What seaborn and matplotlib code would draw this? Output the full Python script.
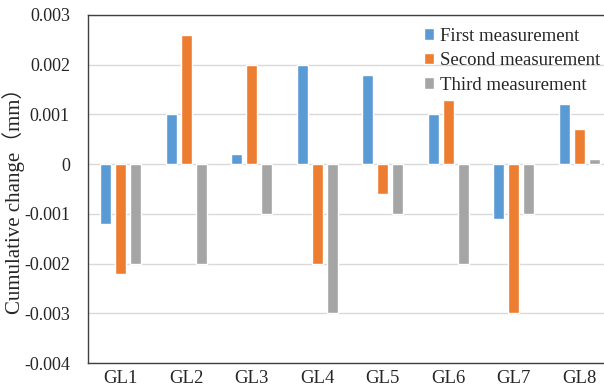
import matplotlib
matplotlib.use("Agg")
import matplotlib.pyplot as plt
import seaborn as sns
import pandas as pd

categories = ["GL1", "GL2", "GL3", "GL4", "GL5", "GL6", "GL7", "GL8"]
first = [-0.0012, 0.0010, 0.0002, 0.0020, 0.0018, 0.0010, -0.0011, 0.0012]
second = [-0.0022, 0.0026, 0.0020, -0.0020, -0.0006, 0.0013, -0.0030, 0.0007]
third = [-0.0020, -0.0020, -0.0010, -0.0030, -0.0010, -0.0020, -0.0010, 0.0001]
series_names = ["First measurement", "Second measurement", "Third measurement"]
colors = ["#5B9BD5", "#ED7D31", "#A5A5A5"]
yticks = [-0.004, -0.003, -0.002, -0.001, 0, 0.001, 0.002, 0.003]
ytick_labels = ["-0.004", "-0.003", "-0.002", "-0.001", "0", "0.001", "0.002", "0.003"]

rows = []
for name, vals in zip(series_names, [first, second, third]):
    for c, v in zip(categories, vals):
        rows.append({"site": c, "series": name, "value": v})
df = pd.DataFrame(rows)

sns.set_theme(style="white")
plt.rcParams["font.family"] = ["Liberation Serif", "Noto Sans CJK SC"]

fig = plt.figure(figsize=(6.04, 3.87), dpi=100)
ax_w = 612 - 88
ax_h = 363 - 15
ax = fig.add_axes([88 / 604, 1 - 363 / 387, ax_w / 604, ax_h / 387])

sns.barplot(data=df, x="site", y="value", hue="series", palette=colors,
            order=categories, hue_order=series_names, width=0.69, gap=0.27,
            saturation=1, ax=ax, legend=True)

ax.set_ylim(-0.004, 0.003)
ax.set_yticks(yticks)
ax.set_yticklabels(ytick_labels, fontsize=13)
ax.tick_params(axis="x", labelsize=13.5, length=0, pad=5)
ax.tick_params(axis="y", length=0, pad=13)
ax.yaxis.grid(True, color="#D9D9D9", linewidth=1.0)
ax.set_axisbelow(True)
ax.set_xlabel("")
ax.set_ylabel("Cumulative change（mm）", fontsize=15)
ax.yaxis.set_label_coords((25 - 88) / ax_w, (363 - 196) / ax_h)

for side in ["left", "top", "bottom"]:
    ax.spines[side].set_visible(True)
    ax.spines[side].set_color("#404040")
    ax.spines[side].set_linewidth(1.0)
ax.spines["right"].set_visible(False)

leg = ax.legend(loc="upper left", bbox_to_anchor=((416 - 88) / ax_w, 0.985),
                frameon=False, fontsize=13.5, handlelength=0.55, handleheight=0.55,
                handletextpad=0.35, labelspacing=0.4, borderaxespad=0)

fig.savefig("out.png", dpi=100)
